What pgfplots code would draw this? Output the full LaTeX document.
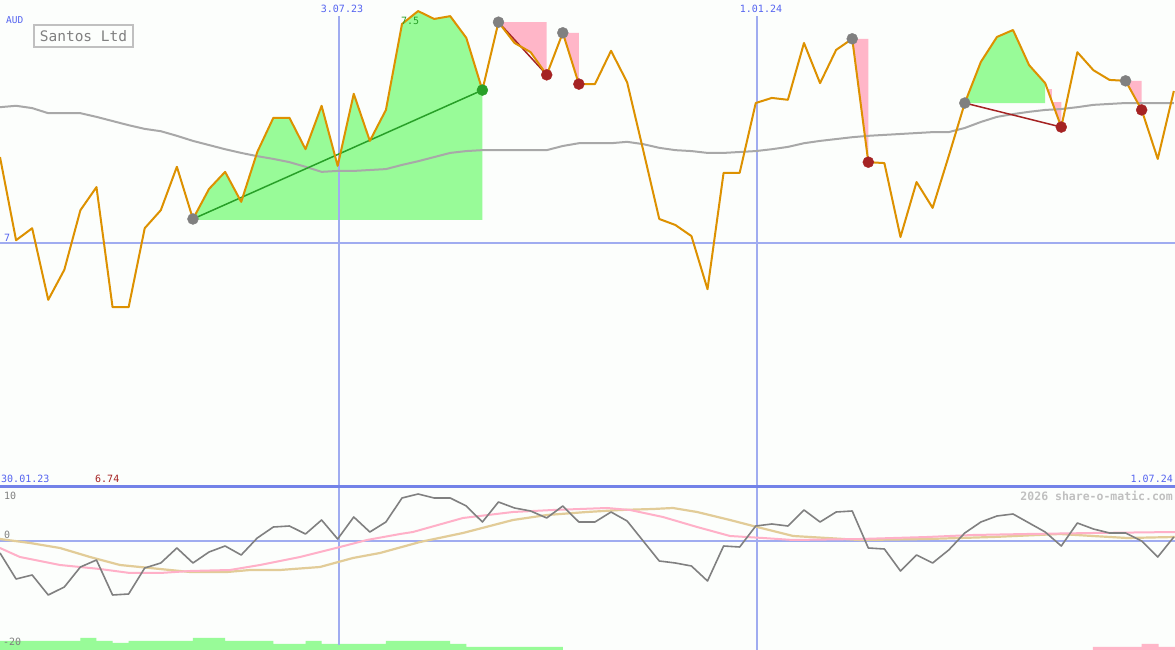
\documentclass[border=0pt]{standalone}
\usepackage{pgfplots}
\pgfplotsset{compat=1.18}
\usepackage{fontspec}
\setmonofont{DejaVu Sans Mono}
\definecolor{bg}{RGB}{252,254,252}
\definecolor{orng}{RGB}{221,145,0}
\definecolor{magray}{RGB}{168,168,168}
\definecolor{pgreen}{RGB}{152,251,152}
\definecolor{lpink}{RGB}{255,182,200}
\definecolor{sgreen}{RGB}{40,160,40}
\definecolor{dred}{RGB}{165,35,35}
\definecolor{mgray}{RGB}{128,128,128}
\definecolor{gridblue}{RGB}{160,172,240}
\definecolor{sepblue}{RGB}{115,130,232}
\definecolor{tblue}{RGB}{85,100,240}
\definecolor{oscpink}{RGB}{255,176,200}
\definecolor{osctan}{RGB}{226,204,152}
\definecolor{wm}{RGB}{192,192,192}
\begin{document}
\begin{tikzpicture}[font=\ttfamily]
\fill[bg] (0pt,0pt) rectangle (1175pt,650pt);
% ---------------- top panel: price ----------------
\begin{axis}[at={(0pt,163pt)}, anchor=south west, scale only axis,
  width=1175pt, height=487pt, xmin=0, xmax=73.07, ymin=6.4719, ymax=7.526,
  hide axis, every axis plot/.append style={line join=round}]
% green / pink zones
\addplot[fill=pgreen, draw=none] coordinates {(12,7.050) (12,7.052) (13,7.117) (14,7.154) (15,7.089) (16,7.197) (17,7.271) (18,7.271) (19,7.203) (20,7.297) (21,7.167) (22,7.323) (23,7.221) (24,7.288) (25,7.474) (26,7.502) (27,7.485) (28,7.491) (29,7.444) (30,7.331) (30,7.050)};
\addplot[fill=pgreen, draw=none] coordinates {(60,7.303) (61,7.392) (62,7.446) (63,7.461) (64,7.385) (65,7.346) (65,7.303)};
\addplot[fill=lpink, draw=none] coordinates {(31,7.478) (34,7.478) (34,7.364) (33,7.413) (32,7.433)};
\addplot[fill=lpink, draw=none] coordinates {(35,7.455) (36,7.455) (36,7.344)};
\addplot[fill=lpink, draw=none] coordinates {(53,7.442) (54,7.442) (54,7.175)};
\addplot[fill=lpink, draw=none] coordinates {(65.13,7.333) (65.42,7.333) (65.42,7.305) (66,7.305) (66,7.251)};
\addplot[fill=lpink, draw=none] coordinates {(70,7.351) (71,7.351) (71,7.288)};
% grid
\draw[gridblue, line width=2pt] (axis cs:0,7) -- (axis cs:73.07,7);
\draw[gridblue, line width=2pt] (axis cs:21.08,7.491) -- (axis cs:21.08,6.4719);
\draw[gridblue, line width=2pt] (axis cs:47.08,7.491) -- (axis cs:47.08,6.4719);
% moving average
\addplot[magray, line width=2pt] coordinates {(0,7.294) (1,7.297) (2,7.292) (3,7.281) (4,7.281) (5,7.281) (6,7.273) (7,7.264) (8,7.255) (9,7.247) (10,7.242) (11,7.232) (12,7.221) (13,7.212) (14,7.203) (15,7.195) (16,7.188) (17,7.182) (18,7.175) (19,7.165) (20,7.154) (21,7.156) (22,7.156) (23,7.158) (24,7.160) (25,7.169) (26,7.177) (27,7.186) (28,7.195) (29,7.199) (30,7.201) (31,7.201) (32,7.201) (33,7.201) (34,7.201) (35,7.210) (36,7.216) (37,7.216) (38,7.216) (39,7.219) (40,7.214) (41,7.206) (42,7.201) (43,7.199) (44,7.195) (45,7.195) (46,7.197) (47,7.199) (48,7.203) (49,7.208) (50,7.216) (51,7.221) (52,7.225) (53,7.229) (54,7.232) (55,7.234) (56,7.236) (57,7.238) (58,7.240) (59,7.240) (60,7.249) (61,7.262) (62,7.273) (63,7.279) (64,7.284) (65,7.288) (66,7.290) (67,7.294) (68,7.299) (69,7.301) (70,7.303) (71,7.303) (72,7.303) (73,7.303)};
% signal lines
\addplot[sgreen, line width=1.5pt] coordinates {(12,7.052) (30,7.331)};
\addplot[dred, line width=1.5pt] coordinates {(31,7.478) (34,7.364)};
\addplot[dred, line width=1.5pt] coordinates {(60,7.303) (66,7.251)};
% price
\addplot[orng, line width=2pt] coordinates {(0,7.186) (1,7.006) (2,7.032) (3,6.877) (4,6.942) (5,7.071) (6,7.121) (7,6.861) (8,6.861) (9,7.032) (10,7.071) (11,7.165) (12,7.052) (13,7.117) (14,7.154) (15,7.089) (16,7.197) (17,7.271) (18,7.271) (19,7.203) (20,7.297) (21,7.167) (22,7.323) (23,7.221) (24,7.288) (25,7.474) (26,7.502) (27,7.485) (28,7.491) (29,7.444) (30,7.331) (31,7.478) (32,7.433) (33,7.413) (34,7.364) (35,7.455) (36,7.344) (37,7.344) (38,7.416) (39,7.348) (40,7.201) (41,7.052) (42,7.039) (43,7.015) (44,6.900) (45,7.152) (46,7.152) (47,7.303) (48,7.314) (49,7.310) (50,7.433) (51,7.346) (52,7.418) (53,7.442) (54,7.175) (55,7.173) (56,7.013) (57,7.132) (58,7.076) (59,7.188) (60,7.303) (61,7.392) (62,7.446) (63,7.461) (64,7.385) (65,7.346) (66,7.251) (67,7.413) (68,7.374) (69,7.353) (70,7.351) (71,7.288) (72,7.182) (73,7.329)};
% markers
\addplot[only marks, mark=*, mark size=5.5pt, color=mgray] coordinates {(12,7.052) (31,7.478) (35,7.455) (53,7.442) (60,7.303) (70,7.351)};
\addplot[only marks, mark=*, mark size=5.5pt, color=dred] coordinates {(34,7.364) (36,7.344) (54,7.175) (66,7.251) (71,7.288)};
\addplot[only marks, mark=*, mark size=5.5pt, color=sgreen] coordinates {(30,7.331)};
\end{axis}
% ---------------- bottom panel: oscillator ----------------
\begin{axis}[at={(0pt,0pt)}, anchor=south west, scale only axis,
  width=1175pt, height=163pt, xmin=0, xmax=73.07, ymin=-27.25, ymax=13.5,
  hide axis, every axis plot/.append style={line join=round}]
\addplot[fill=pgreen, draw=none] coordinates {(0,-27.25) (0,-25) (5,-25) (5,-24.25) (6,-24.25) (6,-25) (7,-25) (7,-25.5) (8,-25.5) (8,-25) (12,-25) (12,-24.25) (14,-24.25) (14,-25) (17,-25) (17,-25.75) (19,-25.75) (19,-25) (20,-25) (20,-25.75) (24,-25.75) (24,-25) (28,-25) (28,-25.75) (29,-25.75) (29,-26.5) (35,-26.5) (35,-27.25)};
\addplot[fill=lpink, draw=none] coordinates {(67.97,-27.25) (67.97,-26.5) (71,-26.5) (71,-25.75) (72.05,-25.75) (72.05,-26.5) (73.07,-26.5) (73.07,-27.25)};
\draw[gridblue, line width=2pt] (axis cs:0,0) -- (axis cs:73.07,0);
\draw[gridblue, line width=2pt] (axis cs:21.08,13.5) -- (axis cs:21.08,-26);
\draw[gridblue, line width=1.5pt] (axis cs:47.08,13.5) -- (axis cs:47.08,-27.25);
\addplot[osctan, line width=2.2pt] coordinates {(0,0.5) (1.87,-0.5) (3.73,-1.75) (5.60,-4) (7.46,-6) (9.33,-6.75) (11.82,-7.75) (14.12,-7.75) (15.55,-7.25) (17.41,-7.25) (19.90,-6.5) (21.95,-4.25) (23.63,-3) (26.12,-0.25) (28.79,2) (31.90,5.25) (34.02,6.5) (36.50,7.25) (38.56,7.75) (40.61,8) (41.85,8.25) (43.35,7.25) (45.40,5.25) (47.08,3.5) (49.32,1.25) (51.43,0.75) (53.48,0.25) (57.65,0.5) (61.75,1) (65.92,1.75) (67.97,1.25) (70.09,0.75) (73.07,1)};
\addplot[oscpink, line width=2pt] coordinates {(0,-1.75) (1.24,-4) (3.73,-6) (6.22,-7) (8.08,-8) (9.95,-8) (11.82,-7.5) (14.30,-7.25) (16.17,-6) (18.66,-4) (21.14,-1.5) (22.82,0.25) (24.88,1.75) (25.68,2.25) (28.79,5.75) (31.90,7.25) (34.39,7.75) (37.75,8.25) (39.18,7.75) (41.23,6) (43.35,3.5) (45.40,1.25) (47.45,0.75) (49.32,0.25) (53.48,0.5) (57.65,1) (60.51,1.5) (63.87,1.75) (67.97,2) (73.07,2.25)};
\addplot[mgray, line width=1.6pt] coordinates {(0,-3) (1,-9.5) (2,-8.5) (3,-13.5) (4,-11.5) (5,-6.5) (6,-4.75) (7,-13.5) (8,-13.25) (9,-6.75) (10,-5.5) (11,-1.75) (12,-5.5) (13,-2.75) (14,-1.25) (15,-3.5) (16,0.75) (17,3.5) (18,3.75) (19,1.75) (20,5.25) (21,0.5) (22,6) (23,2.25) (24,4.75) (25,10.75) (26,11.75) (27,10.75) (28,10.75) (29,8.75) (30,4.75) (31,9.75) (32,8.25) (33,7.5) (34,5.75) (35,8.75) (36,4.75) (37,4.75) (38,7.25) (39,5) (40,0) (41,-5) (42,-5.5) (43,-6.25) (44,-10) (45,-1.25) (46,-1.5) (47,3.75) (48,4.25) (49,3.75) (50,7.75) (51,4.75) (52,7.25) (53,7.5) (54,-1.75) (55,-2) (56,-7.5) (57,-3.5) (58,-5.5) (59,-2.25) (60,2) (61,4.75) (62,6.25) (63,6.75) (64,4.5) (65,2.25) (66,-1.25) (67,4.5) (68,3) (69,2) (70,2) (71,0) (72,-4) (73,1)};
\end{axis}
% separator
\draw[sepblue, line width=3pt] (0pt,163pt) -- (1175pt,163pt);
% texts
\node[anchor=west, text=tblue, font=\ttfamily\fontsize{9.5}{11}\selectfont, inner sep=0pt] at (6pt,630pt) {AUD};
\draw[wm, line width=2pt] (34pt,603pt) rectangle (133pt,625pt);
\node[text=mgray, font=\ttfamily\fontsize{14.5}{16}\selectfont, inner sep=0pt] at (83.5pt,614pt) {Santos Ltd};
\node[text=tblue, font=\ttfamily\fontsize{10}{12}\selectfont, inner sep=0pt] at (342pt,641pt) {3.07.23};
\node[text=tblue, font=\ttfamily\fontsize{10}{12}\selectfont, inner sep=0pt] at (761pt,641pt) {1.01.24};
\node[anchor=west, text=sgreen, font=\ttfamily\fontsize{10}{12}\selectfont, inner sep=0pt] at (401pt,629pt) {7.5};
\node[anchor=west, text=tblue, font=\ttfamily\fontsize{10}{12}\selectfont, inner sep=0pt] at (4pt,412pt) {7};
\node[anchor=west, text=tblue, font=\ttfamily\fontsize{10}{12}\selectfont, inner sep=0pt] at (1pt,171pt) {30.01.23};
\node[anchor=west, text=dred, font=\ttfamily\fontsize{10}{12}\selectfont, inner sep=0pt] at (95pt,171pt) {6.74};
\node[anchor=east, text=tblue, font=\ttfamily\fontsize{10}{12}\selectfont, inner sep=0pt] at (1173pt,171pt) {1.07.24};
\node[anchor=east, text=wm, font=\ttfamily\bfseries\fontsize{11.5}{13}\selectfont, inner sep=0pt] at (1173pt,154pt) {2026 share-o-matic.com};
\node[anchor=west, text=mgray, font=\ttfamily\fontsize{10}{12}\selectfont, inner sep=0pt] at (4pt,154pt) {10};
\node[anchor=west, text=mgray, font=\ttfamily\fontsize{10}{12}\selectfont, inner sep=0pt] at (4pt,115pt) {0};
\node[anchor=west, text=mgray, font=\ttfamily\fontsize{10}{12}\selectfont, inner sep=0pt] at (3pt,8pt) {-20};
\pgfresetboundingbox
\path (0pt,0pt) rectangle (1175pt,650pt);
\end{tikzpicture}
\end{document}
